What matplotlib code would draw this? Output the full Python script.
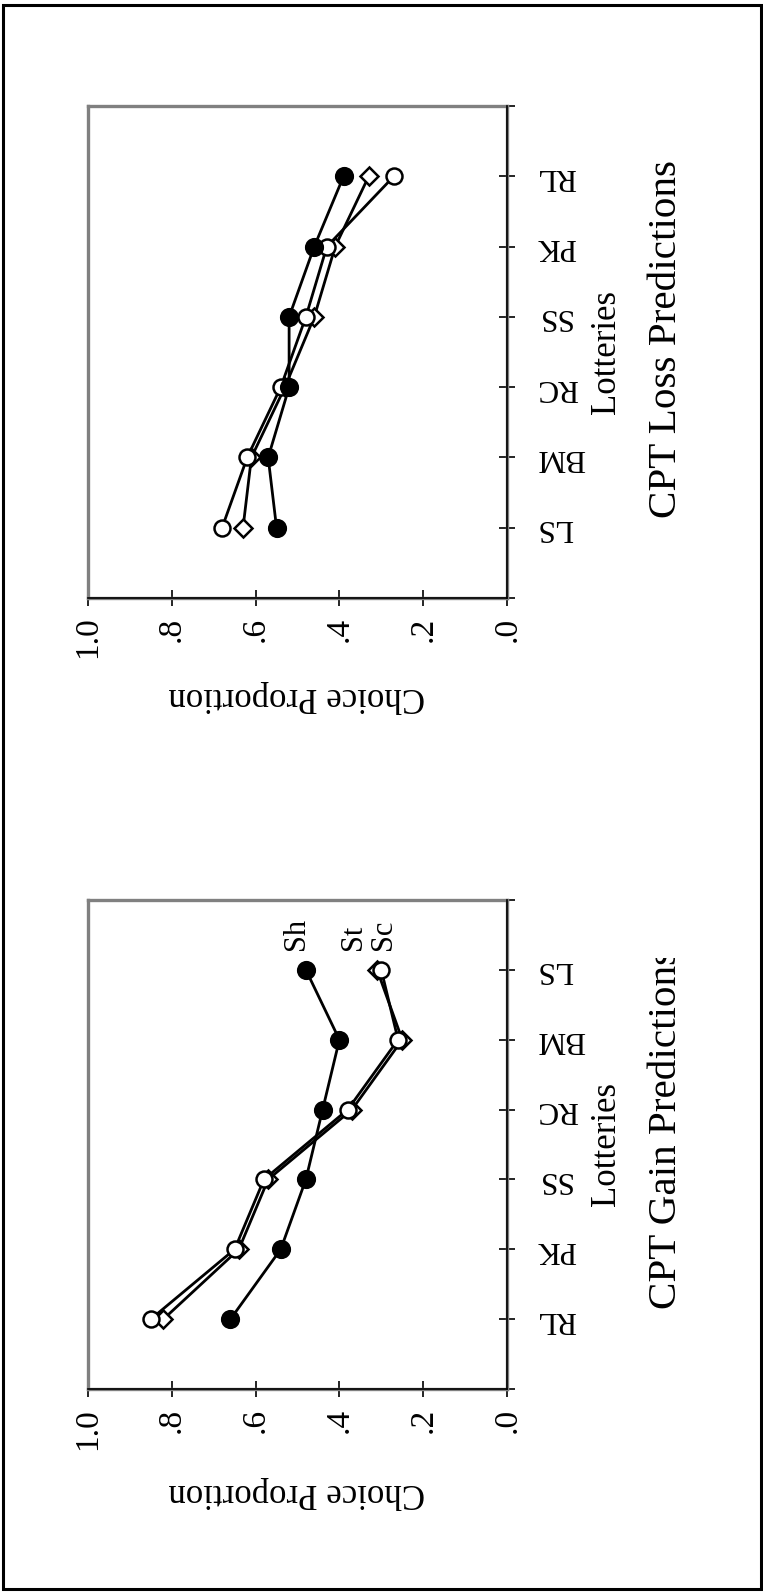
import matplotlib
matplotlib.use("Agg")
import matplotlib.pyplot as plt
from matplotlib.patches import Rectangle
from matplotlib.transforms import Bbox, TransformedBbox

plt.rcParams['font.family'] = ['Liberation Serif', 'DejaVu Serif']

# Gain lotteries, listed from the bottom of the panel upward
gain_lotteries = ['RL', 'PK', 'SS', 'RC', 'BM', 'LS']
gain_sh = [0.66, 0.54, 0.48, 0.44, 0.40, 0.48]
gain_st = [0.82, 0.64, 0.57, 0.37, 0.25, 0.31]
gain_sc = [0.85, 0.65, 0.58, 0.38, 0.26, 0.30]

# Loss lotteries, listed from the bottom of the panel upward
loss_lotteries = ['LS', 'BM', 'RC', 'SS', 'PK', 'RL']
loss_sh = [0.55, 0.57, 0.52, 0.52, 0.46, 0.39]
loss_st = [0.63, 0.61, 0.53, 0.46, 0.41, 0.33]
loss_sc = [0.68, 0.62, 0.54, 0.48, 0.43, 0.27]

series_names = ['Sh', 'St', 'Sc']
prop_ticks = [1.0, 0.8, 0.6, 0.4, 0.2, 0.0]
prop_labels = ['1.0', '.8', '.6', '.4', '.2', '.0']

W, H = 763, 1592
fig = plt.figure(figsize=(W / 100, H / 100), dpi=100)


def fx(px):
    return px / W


def fy(py):
    return 1 - py / H


def panel(top, bottom, lotteries, sh, st, sc):
    ax = fig.add_axes([fx(88), fy(bottom), fx(507 - 88), (bottom - top) / H])
    pos = list(range(1, len(lotteries) + 1))
    line_kw = dict(color='black', lw=2.0, markeredgewidth=1.8,
                   markeredgecolor='black', zorder=3, clip_on=False)
    ax.plot(st, pos, marker='D', ms=9.5, markerfacecolor='white', **line_kw)
    ax.plot(sc, pos, marker='o', ms=11.5, markerfacecolor='white', **line_kw)
    ax.plot(sh, pos, marker='o', ms=12, markerfacecolor='black', **line_kw)

    ax.set_xlim(1.0, 0.0)
    ax.set_ylim(0, len(lotteries) + 1)
    for s in ax.spines.values():
        s.set_color('#808080')
        s.set_linewidth(2.4)
    ax.axhline(0, color='black', lw=1.2, clip_on=False, zorder=4)
    ax.axvline(0, color='black', lw=1.2, clip_on=False, zorder=4)

    ax.set_xticks(prop_ticks)
    ax.set_xticklabels(prop_labels, rotation=90, fontsize=24)
    ax.yaxis.tick_right()
    ax.set_yticks(range(len(lotteries) + 2))
    ax.set_yticklabels([''] + lotteries + [''], rotation=180, fontsize=22.5)
    ax.tick_params(axis='x', direction='inout', length=11, width=1.2,
                   pad=8, colors='black')
    ax.tick_params(axis='y', direction='inout', length=12, width=1.2,
                   pad=15, colors='black')
    for t in ax.get_yticklabels():
        t.set_verticalalignment('center')
    return ax, pos


def side_texts(top, bottom, title, clip_top=None):
    mid = (top + bottom) / 2
    fig.text(fx(607), fy(mid), 'Lotteries', rotation=90, fontsize=25,
             ha='center', va='center')
    t = fig.text(fx(666), fy(bottom - 80), title, rotation=90, fontsize=29.6,
                 ha='center', va='bottom')
    if clip_top is not None:
        box = TransformedBbox(Bbox.from_extents(0, 0, 1, fy(clip_top)),
                              fig.transFigure)
        t.set_clip_box(box)
        t.set_clip_on(True)


# Loss panel (upper)
ax_loss, _ = panel(106, 598, loss_lotteries, loss_sh, loss_st, loss_sc)
side_texts(106, 598, 'CPT Loss Predictions')
fig.text(fx(297), fy(697), 'Choice Proportion', rotation=180, fontsize=25,
         ha='center', va='center')

# Gain panel (lower)
ax_gain, gpos = panel(900, 1389, gain_lotteries, gain_sh, gain_st, gain_sc)
side_texts(900, 1389, 'CPT Gain Predictions', clip_top=958)
fig.text(fx(297), fy(1492), 'Choice Proportion', rotation=180, fontsize=25,
         ha='center', va='center')

# Series names beside the last gain point
offsets = {'Sh': (-9, 20), 'St': (-24, 20), 'Sc': (2, 20)}
last_vals = {'Sh': gain_sh[-1], 'St': gain_st[-1], 'Sc': gain_sc[-1]}
for name in series_names:
    dx, dy = offsets[name]
    ax_gain.annotate(name, xy=(last_vals[name], gpos[-1]), xytext=(dx, dy),
                     textcoords='offset pixels', rotation=90, fontsize=22,
                     ha='center', va='bottom')

# Outer frame
fig.patches.append(Rectangle((fx(3), fy(1589)), fx(758), (1589 - 5) / H,
                             transform=fig.transFigure, fill=False,
                             edgecolor='black', lw=2.2))

fig.savefig('out.png', dpi=100)
